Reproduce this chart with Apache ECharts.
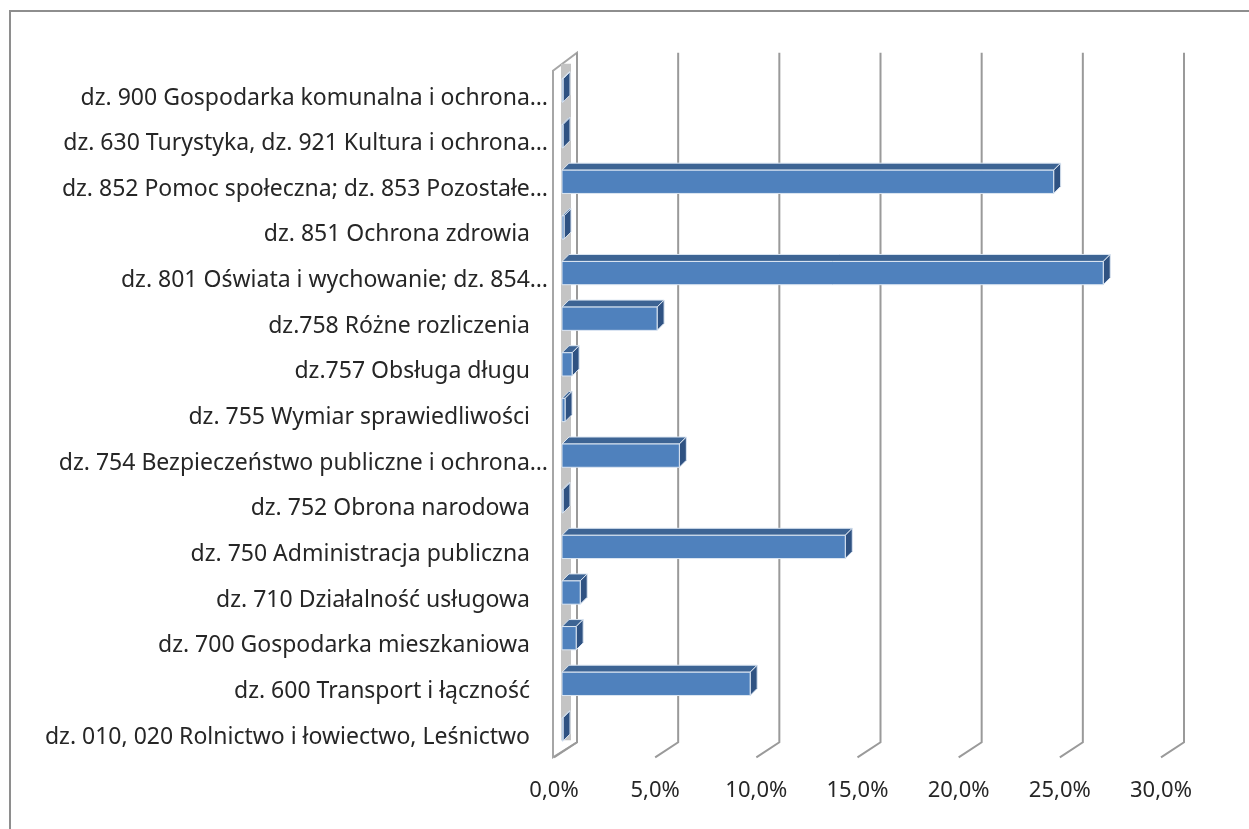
<!DOCTYPE html>
<html>
<head>
<meta charset="utf-8">
<title>Struktura wydatków wg działów</title>
<script src="https://cdn.jsdelivr.net/npm/echarts@6/dist/echarts.min.js"></script>
<style>
  html, body { margin: 0; padding: 0; background: #fff; }
  #chart { width: 1249px; height: 829px; }
</style>
</head>
<body>
<div id="chart"></div>
<script>
// kategorie od dołu do góry
var categories = [
  'dz. 010, 020 Rolnictwo i łowiectwo, Leśnictwo',
  'dz. 600 Transport i łączność',
  'dz. 700 Gospodarka mieszkaniowa',
  'dz. 710 Działalność usługowa',
  'dz. 750 Administracja publiczna',
  'dz. 752 Obrona narodowa',
  'dz. 754 Bezpieczeństwo publiczne i ochrona…',
  'dz. 755 Wymiar sprawiedliwości',
  'dz.757 Obsługa długu',
  'dz.758 Różne rozliczenia',
  'dz. 801 Oświata i wychowanie; dz. 854…',
  'dz. 851 Ochrona zdrowia',
  'dz. 852 Pomoc społeczna; dz. 853 Pozostałe…',
  'dz. 630 Turystyka, dz. 921 Kultura i ochrona…',
  'dz. 900 Gospodarka komunalna i ochrona…'
];
// udział w %
var values = [0.05, 9.3, 0.7, 0.9, 14.0, 0.05, 5.8, 0.15, 0.5, 4.7, 26.75, 0.1, 24.3, 0.05, 0.05];
var ticks = [0, 5, 10, 15, 20, 25, 30];

var chart = echarts.init(document.getElementById('chart'));

var FONT = '"Noto Sans", sans-serif';
var FS = 23;

function renderBar(params, api) {
  var idx = api.value(0);
  var v = api.value(1);
  var p0 = api.coord([0, idx]);
  var p1 = api.coord([v, idx]);
  var h = api.size([0, 1])[1] * 0.51;
  var d = 7;
  var x0 = p0[0], x1 = p1[0];
  var yT = p0[1] - h / 2, yB = p0[1] + h / 2;
  var edge = { stroke: '#dce6f2', lineWidth: 1 };
  return {
    type: 'group',
    children: [
      { type: 'polygon', shape: { points: [[x0, yT], [x1, yT], [x1 + d, yT - d], [x0 + d, yT - d]] },
        style: Object.assign({ fill: '#3d6494' }, edge) },
      { type: 'polygon', shape: { points: [[x1, yT], [x1 + d, yT - d], [x1 + d, yB - d], [x1, yB]] },
        style: Object.assign({ fill: '#2f5282' }, edge) },
      { type: 'rect', shape: { x: x0, y: yT, width: x1 - x0, height: yB - yT },
        style: Object.assign({ fill: '#4f81bd' }, edge) }
    ]
  };
}

function renderGrid(params, api) {
  var cs = params.coordSys;
  var x = api.coord([api.value(0), 0])[0];
  var top = cs.y, bottom = cs.y + cs.height;
  return {
    type: 'polyline',
    shape: { points: [[x + 15, top - 15], [x + 15, bottom - 10], [x - 8, bottom + 5]] },
    style: { stroke: '#9a9a9a', lineWidth: 2, fill: null }
  };
}

function renderWall(params, api) {
  var cs = params.coordSys;
  var L = cs.x, top = cs.y, bottom = cs.y + cs.height;
  return {
    type: 'group',
    children: [
      { type: 'polygon', shape: { points: [[L - 9, top + 3], [L + 15, top - 15], [L + 15, bottom - 10], [L - 9, bottom + 5]] },
        style: { fill: '#fff', stroke: '#a6a6a6', lineWidth: 2 } },
      { type: 'rect', shape: { x: L - 1, y: top - 4, width: 10, height: cs.height - 8 },
        style: { fill: '#c4c4c4' } }
    ]
  };
}

var option = {
  animation: false,
  backgroundColor: '#fff',
  grid: { left: 562, right: 80, top: 67.7, bottom: 76.7 },
  xAxis: {
    type: 'value', min: 0, max: 30, interval: 5,
    axisLine: { show: false }, axisTick: { show: false }, splitLine: { show: false },
    axisLabel: {
      margin: 27, padding: [0, 16, 0, 0],
      fontFamily: FONT, fontSize: 22, color: '#262626',
      formatter: function (v) { return v.toFixed(1).replace('.', ',') + '%'; }
    }
  },
  yAxis: {
    type: 'category', data: categories,
    axisLine: { show: false }, axisTick: { show: false }, splitLine: { show: false },
    axisLabel: {
      margin: 14, interval: 0,
      fontFamily: FONT, fontSize: FS, color: '#262626',
      formatter: function (v) { return v.slice(-1) === '…' ? '{t|' + v + '}' : '{s|' + v + '}'; },
      rich: {
        t: { fontFamily: FONT, fontSize: FS, color: '#262626', padding: [15, 0, 0, 0] },
        s: { fontFamily: FONT, fontSize: FS, color: '#262626', padding: [15, 18, 0, 0] }
      }
    }
  },
  graphic: [{
    type: 'rect', shape: { x: 10, y: 11, width: 1300, height: 900 },
    style: { fill: null, stroke: '#8e8e8e', lineWidth: 2 }, z: 100
  }],
  series: [
    { type: 'custom', name: 'wall', z: 1, renderItem: renderWall, data: [[0]], silent: true },
    { type: 'custom', name: 'grid', z: 2, renderItem: renderGrid, data: ticks.map(function (t) { return [t]; }), silent: true },
    { type: 'custom', name: 'udział', z: 3, renderItem: renderBar,
      encode: { x: 1, y: 0 },
      data: values.map(function (v, i) { return [i, v]; }) }
  ]
};
chart.setOption(option);
</script>
</body>
</html>
